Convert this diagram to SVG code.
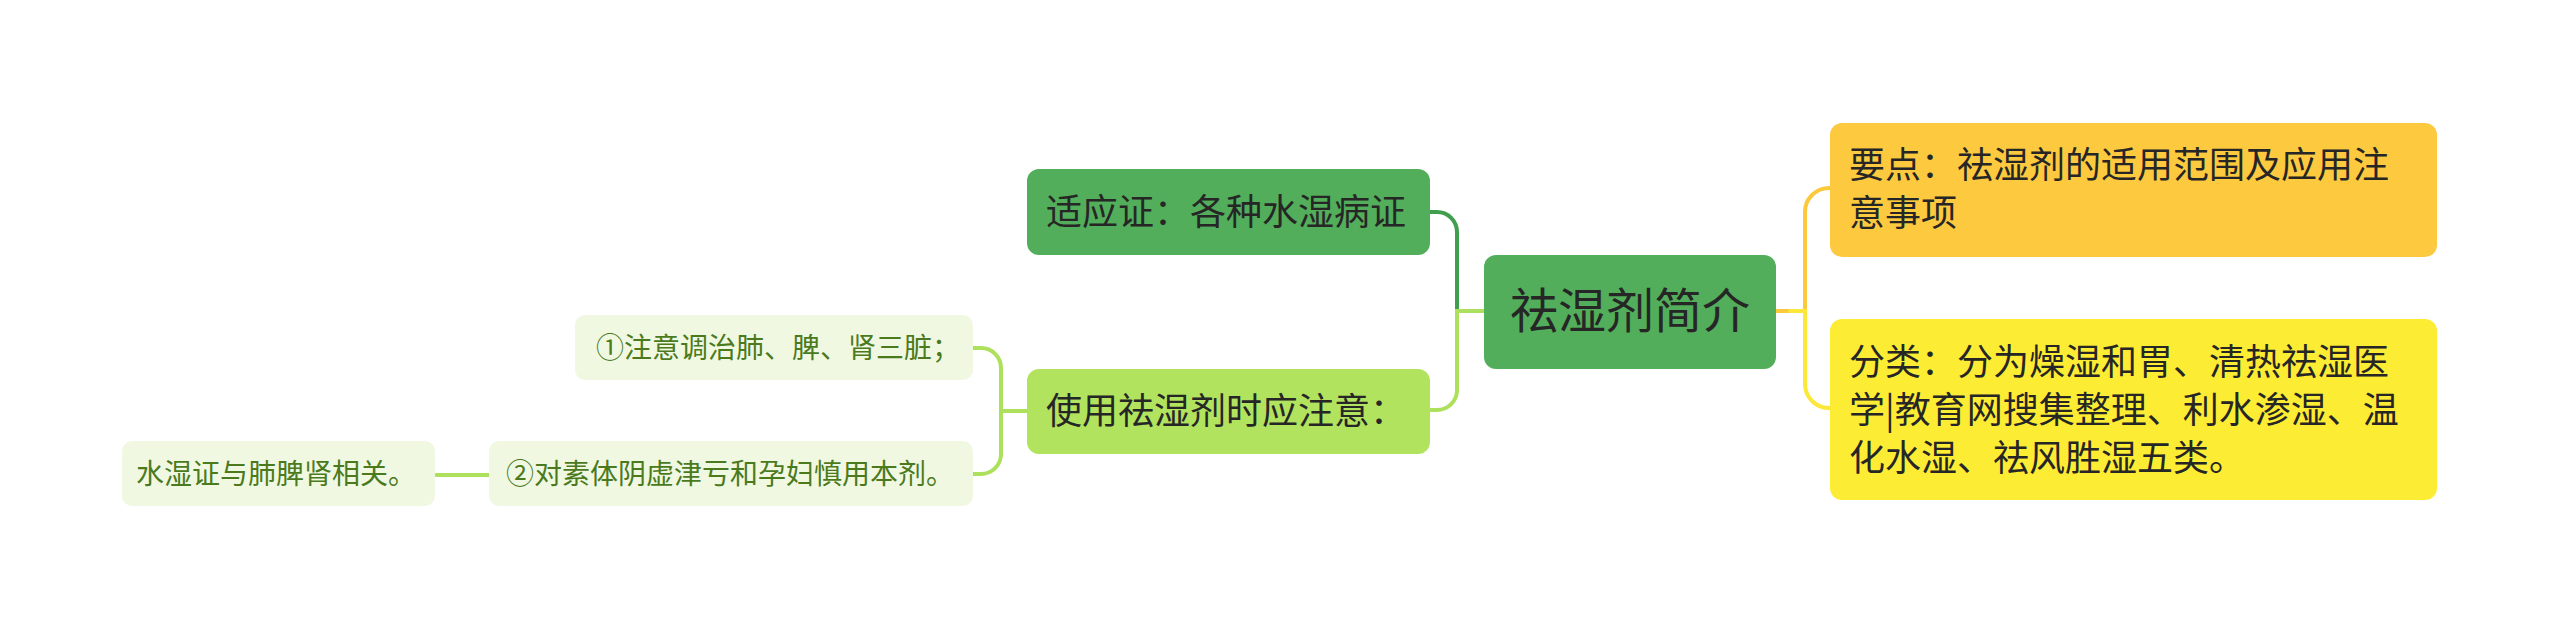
<svg xmlns="http://www.w3.org/2000/svg" width="2560" height="630" viewBox="0 0 2560 630">
<style>
text{font-family:"Noto Sans CJK SC","Noto Sans",sans-serif;fill:#262626}
.c{fill:none;stroke-width:4;stroke-linecap:round}
.leaf rect{fill:#f0f8e2}
.leaf text{fill:#4b7a1c;font-size:28px}
.mid text{font-size:36px}
</style>
<rect width="2560" height="630" fill="#ffffff"/>
<g id="connectors">
<path class="c" stroke="#fcc93d" d="M1776,311 H1805 V212 A24,24 0 0 1 1829,188 H1831"/>
<path class="c" stroke="#fde83a" d="M1790,311 H1805 V384 A24,24 0 0 0 1829,408 H1831"/>
<path class="c" stroke="#3f9f4d" d="M1457,311 V232 A20,20 0 0 0 1437,212 H1429"/>
<path class="c" stroke="#ade05d" d="M1484,311 H1457 V390 A20,20 0 0 1 1437,410 H1429"/>
<path class="c" stroke="#ade05d" d="M1027,411 H1001 V368 A20,20 0 0 0 981,348 H973"/>
<path class="c" stroke="#ade05d" d="M1001,411 V454 A20,20 0 0 1 981,474 H973"/>
<path class="c" stroke="#ade05d" d="M436,475 H489"/>
</g>
<g id="root">
<rect x="1484" y="255" width="292" height="114" rx="12" fill="#52ae5a"/>
<text x="1630" y="328" font-size="48" text-anchor="middle">祛湿剂简介</text>
</g>
<g id="n-yaodian" class="mid">
<rect x="1830" y="123" width="607" height="134" rx="12" fill="#fdc93f"/>
<text x="1849" y="178">要点：祛湿剂的适用范围及应用注</text>
<text x="1849" y="226">意事项</text>
</g>
<g id="n-fenlei" class="mid">
<rect x="1830" y="319" width="607" height="181" rx="12" fill="#fdec34"/>
<text x="1849" y="375">分类：分为燥湿和胃、清热祛湿医</text>
<text x="1849" y="423">学|教育网搜集整理、利水渗湿、温</text>
<text x="1849" y="471">化水湿、祛风胜湿五类。</text>
</g>
<g id="n-shiying" class="mid">
<rect x="1027" y="169" width="403" height="86" rx="12" fill="#52ae5a"/>
<text x="1046" y="225">适应证：各种水湿病证</text>
</g>
<g id="n-shiyong" class="mid">
<rect x="1027" y="369" width="403" height="85" rx="12" fill="#b2e35e"/>
<text x="1046" y="424">使用祛湿剂时应注意：</text>
</g>
<g id="n-leaf1" class="leaf">
<rect x="575" y="315" width="398" height="65" rx="10"/>
<text x="596" y="358">①注意调治肺、脾、肾三脏；</text>
</g>
<g id="n-leaf2" class="leaf">
<rect x="489" y="441" width="484" height="65" rx="10"/>
<text x="506" y="484">②对素体阴虚津亏和孕妇慎用本剂。</text>
</g>
<g id="n-leaf3" class="leaf">
<rect x="122" y="441" width="313" height="65" rx="10"/>
<text x="136" y="484">水湿证与肺脾肾相关。</text>
</g>
</svg>
